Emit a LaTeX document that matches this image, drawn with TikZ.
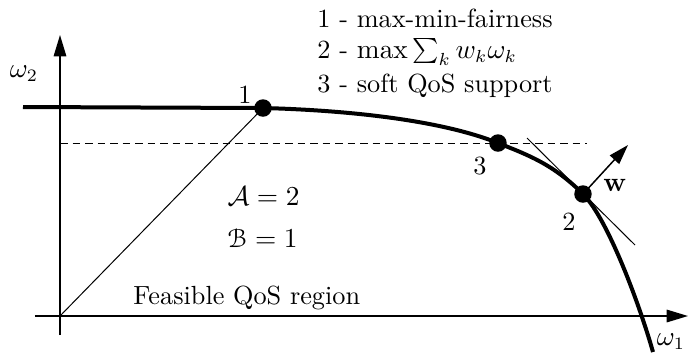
\documentclass[tikz,border=0pt]{standalone}
\usepackage[mathscr]{eucal}
\usetikzlibrary{arrows.meta}
\begin{document}
\begin{tikzpicture}[x=0.4pt,y=-0.4pt,
  axis/.style={line width=0.6pt,-{Triangle[length=8.5pt,width=5pt]}},
  front/.style={line width=1.6pt},
  thin/.style={line width=0.4pt},
  dot/.style={circle,fill=black,inner sep=0pt,minimum size=7pt},
  lbl/.style={inner sep=0pt,font=\fontsize{10.5}{12}\selectfont}]
\useasboundingbox (0,0) rectangle (689,356);
% axes
\coordinate (yb) at (60,335);
\coordinate (yt) at (60,35);
\coordinate (xl) at (35,316);
\coordinate (xr) at (688,316);
\coordinate (o) at (60,316);
\draw[axis] (yb) -- (yt);
\draw[axis] (xl) -- (xr);
% points
\node[dot] (p1) at (263,108) {};
\node[dot] (p3) at (498,143) {};
\node[dot] (p2) at (583,194) {};
\coordinate (cs) at (23,107);
\coordinate (ce) at (653,352);
% dashed level
\coordinate (dl) at (60,143);
\coordinate (dr) at (587,143);
\draw[thin,dashed,dash pattern=on 3pt off 2pt] (dl) -- (dr);
% max-min line
\draw[thin] (o) -- (p1.center);
% tangent
\coordinate (t1) at (527,138);
\coordinate (t2) at (635,245);
\draw[thin] (t1) -- (t2);
% w arrow
\coordinate (wt) at (628,145);
\draw[line width=0.6pt,-{Triangle[length=8pt,width=5pt]}] (p2.center) -- (wt);
% pareto front
\draw[front] (cs) -- (p1.center)
  .. controls (341,110) and (438,119) .. (p3.center)
  .. controls (528,155) and (553,164) .. (p2.center)
  .. controls (608,219) and (640,306) .. (ce);
% labels
\node[lbl] (l1) at (245,95) {1};
\node[lbl] (l3) at (480,166) {3};
\node[lbl] (l2) at (569,222) {2};
\node[lbl] (lw) at (615,185) {$\mathbf{w}$};
\node[lbl] (w1) at (671,342) {$\omega_1$};
\node[lbl] (w2) at (24,74) {$\omega_2$};
\node[lbl,anchor=west] (g1) at (317,18) {1 - max-min-fairness};
\node[lbl,anchor=west] (g2) at (317,52) {2 - $\max\sum_k w_k\omega_k$};
\node[lbl,anchor=west] (g3) at (317,86) {3 - soft QoS support};
\node[lbl,anchor=west] (a) at (227,196) {$\mathcal{A}=2$};
\node[lbl,anchor=west] (b) at (227,238) {$\mathscr{B}=1$};
\node[lbl,anchor=west] (f) at (133,298) {Feasible QoS region};
\end{tikzpicture}
\end{document}
